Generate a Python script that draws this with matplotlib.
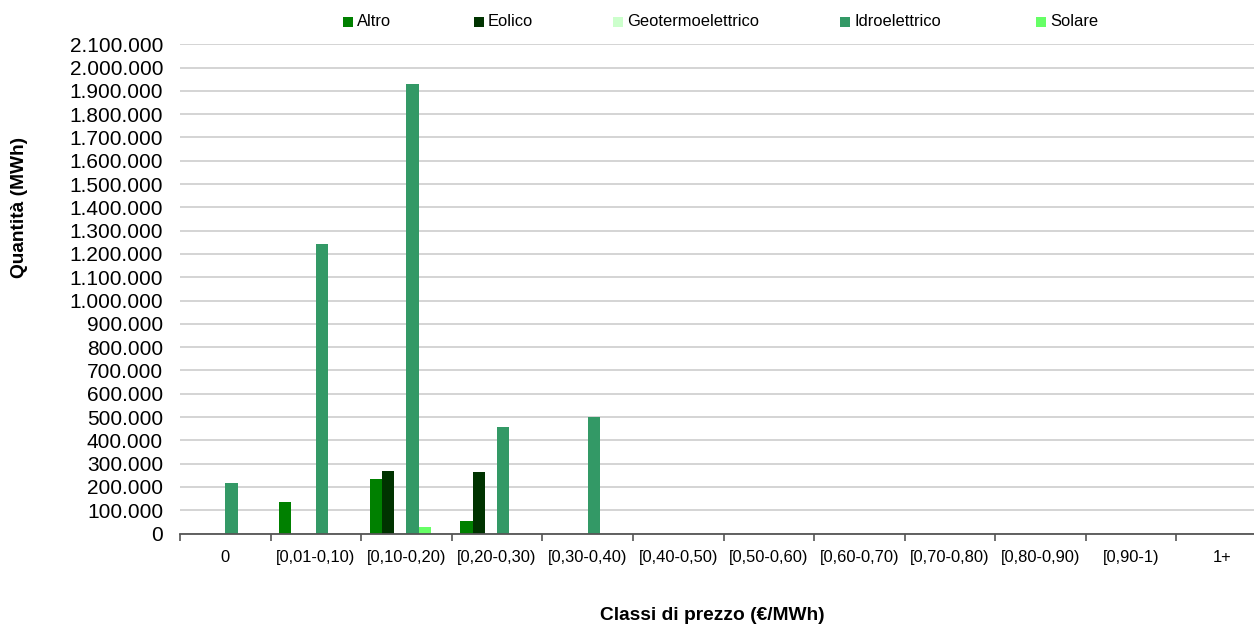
import matplotlib
matplotlib.use("Agg")
import matplotlib.pyplot as plt
from matplotlib.ticker import FuncFormatter, FixedLocator
from matplotlib.patches import Rectangle
import numpy as np

plt.rcParams["font.family"] = ["Liberation Sans", "DejaVu Sans"]

# Price classes (€/MWh)
categories = ["0", "[0,01-0,10)", "[0,10-0,20)", "[0,20-0,30)", "[0,30-0,40)",
              "[0,40-0,50)", "[0,50-0,60)", "[0,60-0,70)", "[0,70-0,80)",
              "[0,80-0,90)", "[0,90-1)", "1+"]

# Quantities per source (MWh)
altro = [0, 137000, 236000, 52000, 0, 0, 0, 0, 0, 0, 0, 0]
eolico = [0, 0, 270000, 262000, 0, 0, 0, 0, 0, 0, 0, 0]
geotermoelettrico = [0, 0, 0, 0, 0, 0, 0, 0, 0, 0, 0, 0]
idroelettrico = [218000, 1243000, 1930000, 459000, 500000, 0, 0, 0, 0, 0, 0, 0]
solare = [0, 0, 30000, 0, 0, 0, 0, 0, 0, 0, 0, 0]

series_names = ["Altro", "Eolico", "Geotermoelettrico", "Idroelettrico", "Solare"]
series_values = [altro, eolico, geotermoelettrico, idroelettrico, solare]
series_colors = ["#008000", "#003300", "#CCFFCC", "#339966", "#66FF66"]

W, H = 1254, 624
fig = plt.figure(figsize=(W / 100, H / 100), dpi=100)
fig.patch.set_facecolor("white")

left_px, right_px, top_px, bottom_px = 180, 1267, 44.3, 533.5
ax = fig.add_axes([left_px / W, (H - bottom_px) / H,
                   (right_px - left_px) / W, (bottom_px - top_px) / H])

n = len(categories)
x = np.arange(n)
bar_w = 0.135
slots = 6  # group layout leaves one empty slot on the right
for k, (name, vals, col) in enumerate(zip(series_names, series_values, series_colors)):
    offs = x + 0.5 + (k - slots / 2) * bar_w
    ax.bar(offs, vals, width=bar_w, align="edge", color=col,
           label=name, zorder=3, linewidth=0)

ax.set_xlim(0, n)
ax.set_ylim(0, 2100000)

# y axis: gridlines every 100.000, Italian thousands separator
ax.yaxis.set_major_locator(FixedLocator(np.arange(0, 2100001, 100000)))
ax.yaxis.set_major_formatter(FuncFormatter(lambda v, p: f"{int(round(v)):,}".replace(",", ".")))
ax.tick_params(axis="y", length=0, pad=12.2, labelsize=15, labelcolor="#000000")
ax.grid(axis="y", color="#d4d4d4", linewidth=1.4, zorder=0)
ax.set_axisbelow(True)

# x axis: ticks at class boundaries, labels centred in each class
ax.xaxis.set_major_locator(FixedLocator(np.arange(0, n + 1)))
ax.xaxis.set_major_formatter(FuncFormatter(lambda v, p: ""))
ax.xaxis.set_minor_locator(FixedLocator(x + 0.5))
ax.set_xticklabels(categories, minor=True)
ax.tick_params(axis="x", which="major", length=5, width=1.2, color="#555555", direction="out")
ax.tick_params(axis="x", which="minor", length=0, pad=12.0, labelsize=11.9)

for s in ["top", "right", "left"]:
    ax.spines[s].set_visible(False)
ax.spines["bottom"].set_color("#555555")
ax.spines["bottom"].set_linewidth(1.3)
ax.spines["bottom"].set_zorder(4)

fig.text(20 / W, 1 - 207 / H, "Quantità (MWh)", rotation=90, ha="center", va="center",
         fontsize=13.8, fontweight="bold")
fig.text(712 / W, 1 - 615 / H, "Classi di prezzo (€/MWh)", ha="center", va="center",
         fontsize=13.8, fontweight="bold")

# Legend row across the top: square swatch followed by the series name
legend_x_px = [343, 474, 613, 840, 1036]
legend_y_px = 22
swatch_px = 10
for name, col, lx in zip(series_names, series_colors, legend_x_px):
    fig.patches.append(Rectangle((lx / W, (H - legend_y_px - swatch_px / 2) / H),
                                 swatch_px / W, swatch_px / H, transform=fig.transFigure,
                                 facecolor=col, edgecolor="none"))
    fig.text((lx + swatch_px + 4) / W, 1 - legend_y_px / H, name, ha="left", va="center",
             fontsize=11.9)

fig.savefig("out.png", dpi=100, facecolor="white")
